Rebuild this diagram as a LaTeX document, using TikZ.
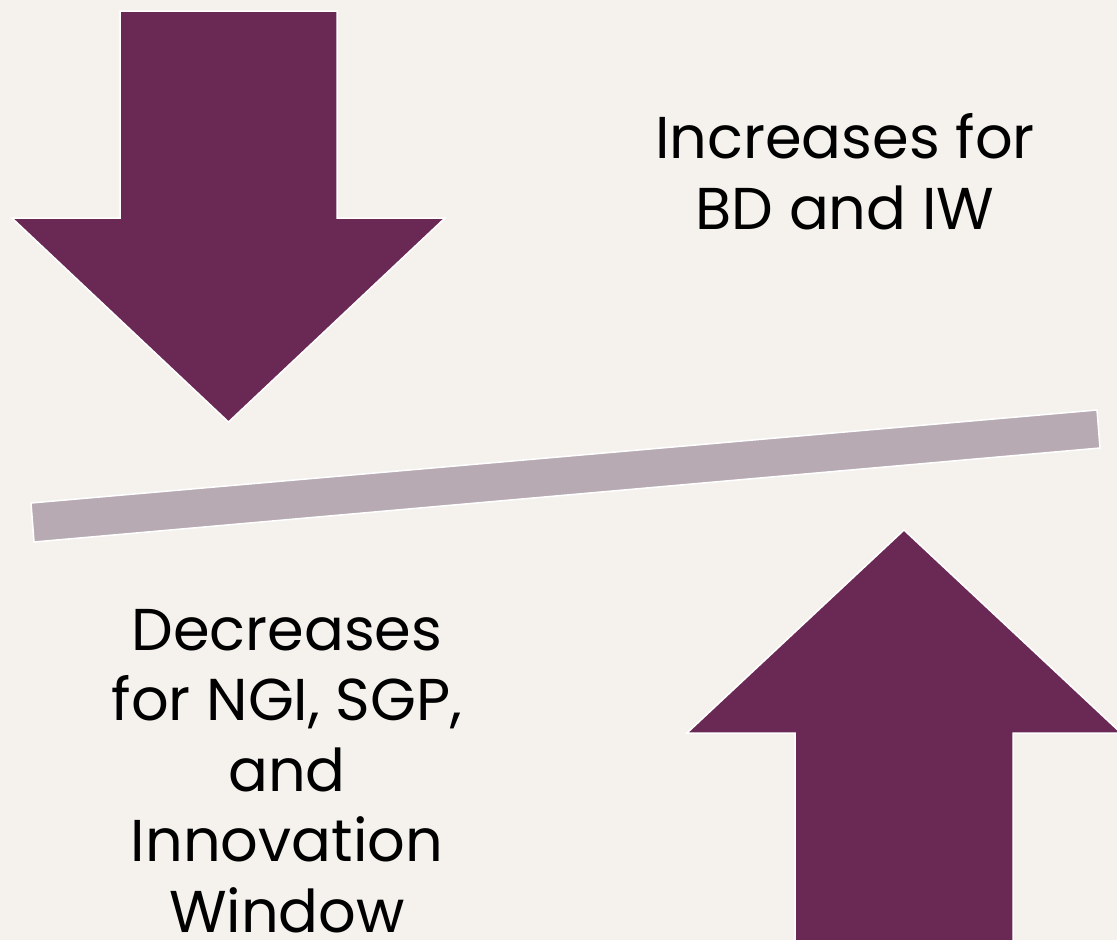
\documentclass[tikz,border=0pt]{standalone}
\usepackage{fontspec}
\setmainfont{Poppins}
\definecolor{bgc}{RGB}{245,242,237}
\definecolor{plum}{RGB}{106,40,85}
\definecolor{barc}{RGB}{184,170,179}
\tikzset{
  bigarrow/.style={fill=plum, draw=white, line width=1.5pt, line join=miter},
  seesaw/.style={fill=barc, draw=white, line width=1.5pt},
  label/.style={align=center, inner sep=0pt, font=\fontsize{59}{70.5}\selectfont, text=black}
}
\begin{document}
\begin{tikzpicture}[x=1pt,y=-1pt]
\fill[bgc] (0,0) rectangle (1117,940);
\useasboundingbox (0,0) rectangle (1117,940);
\begin{scope}
\clip (0,0) rectangle (1117,940);
\draw[bigarrow] (120,11) -- (337,11) -- (337,218) -- (445,218) -- (228.5,422) -- (12,218) -- (120,218) -- cycle;
\draw[seesaw] (31,503) -- (1097,410) -- (1100,448) -- (34,542) -- cycle;
\draw[bigarrow] (904,530) -- (1121,733) -- (1013,733) -- (1013,950) -- (795,950) -- (795,733) -- (687,733) -- cycle;
\end{scope}
\node[label, anchor=base] (inc) at (845,229) {Increases for\\BD and IW};
\node[label, anchor=base] (dec) at (287,932) {Decreases\\for NGI, SGP,\\and\\Innovation\\Window};
\end{tikzpicture}
\end{document}
